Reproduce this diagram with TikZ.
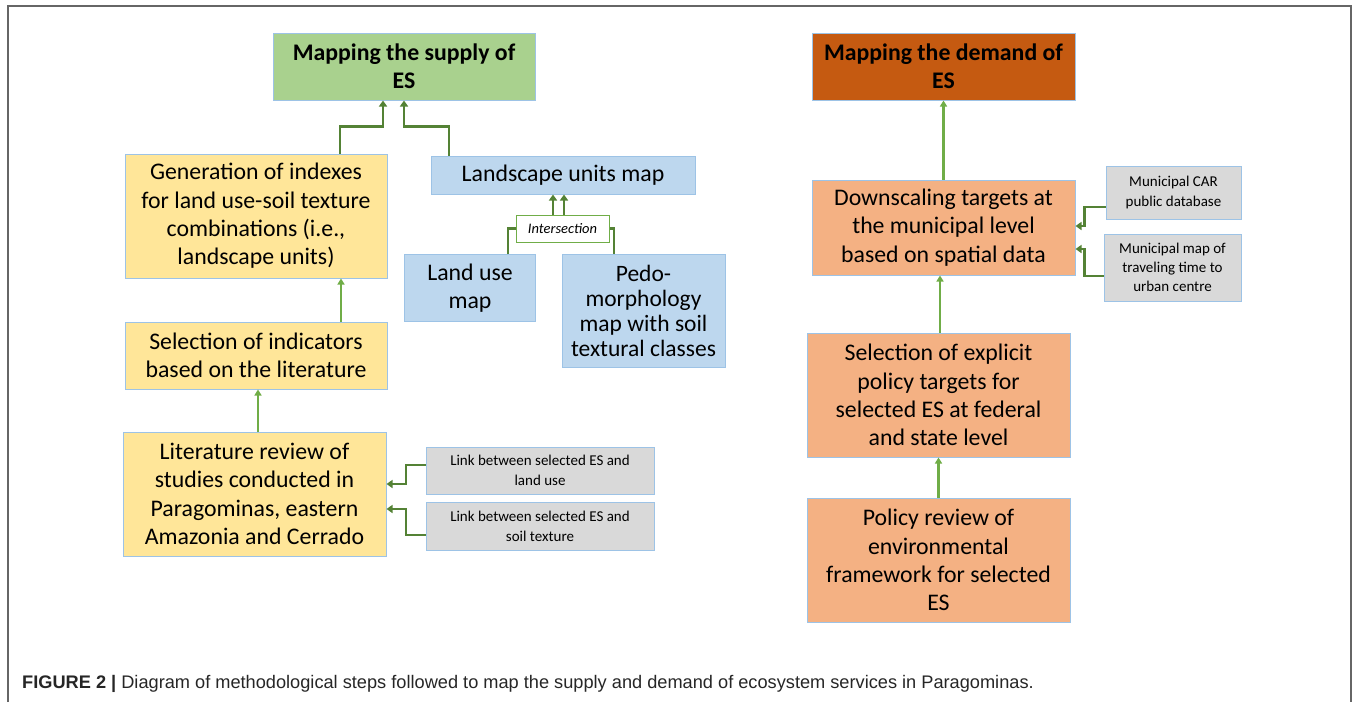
\documentclass[tikz,border=0pt]{standalone}
\usepackage{fontspec}
\setmainfont{Carlito}
\newfontfamily\capfont{Liberation Sans}
\usetikzlibrary{arrows.meta,calc}
\definecolor{gfill}{HTML}{A9D18E}
\definecolor{dfill}{HTML}{C55A11}
\definecolor{yfill}{HTML}{FFE699}
\definecolor{bfill}{HTML}{BDD7EE}
\definecolor{ofill}{HTML}{F4B183}
\definecolor{grfill}{HTML}{D9D9D9}
\definecolor{bord}{HTML}{9DC3E6}
\definecolor{dgreen}{HTML}{548235}
\definecolor{lgreen}{HTML}{70AD47}
\tikzset{
  box/.style={draw=bord, line width=1pt, align=center, inner sep=2pt, font=\fontsize{23.8}{28.3}\selectfont},
  small/.style={draw=bord, line width=1pt, align=center, inner sep=2pt, font=\fontsize{15}{20}\selectfont, fill=grfill},
  thickarr/.style={draw=dgreen, line width=2.6pt, -{Triangle[width=8pt,length=6pt]}},
  thickline/.style={draw=dgreen, line width=2.6pt},
  thinarr/.style={draw=lgreen, line width=2.2pt, -{Triangle[width=7pt,length=6pt]}},
}
\begin{document}
\begin{tikzpicture}[x=1pt,y=-1pt]
\useasboundingbox (0,0) rectangle (1360,702);
\draw[line width=2pt, draw=black!60] (8,702) -- (8,6) -- (1351,6) -- (1351,702);

\node[box, fill=gfill, minimum width=262, minimum height=67, font=\fontsize{23.8}{28}\selectfont\bfseries] (supply) at (404,66.5) {Mapping the supply of\\ES};
\node[box, fill=dfill, minimum width=263, minimum height=67, font=\fontsize{23.8}{28}\selectfont\bfseries] (demand) at (943.5,66.5) {Mapping the demand of\\ES};

\node[box, fill=yfill, minimum width=262, minimum height=124] (gen) at (256,216) {Generation of indexes\\for land use-soil texture\\combinations (i.e.,\\landscape units)};
\node[box, fill=bfill, minimum width=264, minimum height=38] (land) at (563,175) {Landscape units map};
\node[draw=lgreen, line width=1pt, fill=white, minimum width=93, minimum height=27, inner sep=1pt, font=\fontsize{14.5}{16}\selectfont\itshape] (inter) at (562.5,228.5) {Intersection};
\node[box, fill=bfill, minimum width=131, minimum height=67] (landuse) at (470,288) {Land use\\map};
\node[box, fill=bfill, minimum width=163, minimum height=113, font=\fontsize{23.5}{25}\selectfont] (pedo) at (643.5,310.5) {Pedo-\\morphology\\map with soil\\textural classes};
\node[box, fill=yfill, minimum width=262, minimum height=67] (sel) at (256,355.5) {Selection of indicators\\based on the literature};
\node[box, fill=yfill, minimum width=263, minimum height=124] (lit) at (254.5,494) {Literature review of\\studies conducted in\\Paragominas, eastern\\Amazonia and Cerrado};
\node[small, minimum width=228, minimum height=47] (link1) at (540,470.5) {Link between selected ES and\\land use};
\node[small, minimum width=228, minimum height=48] (link2) at (540,526) {Link between selected ES and\\soil texture};

\node[box, fill=ofill, minimum width=263, minimum height=95] (down) at (943.5,227.5) {Downscaling targets at\\the municipal level\\based on spatial data};
\node[small, minimum width=135, minimum height=53] (car) at (1173.5,192.5) {Municipal CAR\\public database};
\node[small, minimum width=137, minimum height=67, font=\fontsize{15}{19}\selectfont] (travel) at (1172.5,267.5) {Municipal map of\\traveling time to\\urban centre};
\node[box, fill=ofill, minimum width=263, minimum height=124] (expl) at (938.5,395) {Selection of explicit\\policy targets for\\selected ES at federal\\and state level};
\node[box, fill=ofill, minimum width=263, minimum height=124] (pol) at (938.5,560) {Policy review of\\environmental\\framework for selected\\ES};

% supply side connectors
\draw[thickarr] ($(gen.north)+(84,0)$) -- ++(0,-27) -| ($(supply.south)+(-21,0)$);
\draw[thickarr] ($(land.north)+(-114,0)$) -- ++(0,-29) -| (supply.south);
\draw[thickline] ($(landuse.north)+(38,0)$) |- (inter.west);
\draw[thickline] ($(pedo.north)+(-29.5,0)$) |- (inter.east);
\coordinate (i1) at ($(inter.north)+(-9.5,0)$);
\coordinate (i2) at ($(inter.north)+(1.5,0)$);
\draw[thickarr] (i1) -- (i1 |- land.south);
\draw[thickarr] (i2) -- (i2 |- land.south);
\draw[thinarr] ($(sel.north)+(85,0)$) -- ($(gen.south)+(85,0)$);
\draw[thinarr] ($(lit.north)+(3.5,0)$) -- ($(sel.south)+(2,0)$);
\draw[thickarr] ($(link1.west)+(0,-5.5)$) -- ++(-19.5,0) |- ($(lit.east)+(0,-10)$);
\draw[thickarr] ($(link2.west)+(0,9)$) -- ++(-19.5,0) |- ($(lit.east)+(0,15)$);

% demand side connectors
\draw[thinarr] (down.north) -- (demand.south);
\draw[thinarr] ($(expl.north)+(1.5,0)$) -- ($(down.south)+(-3.5,0)$);
\draw[thinarr] (pol.north) -- (expl.south);
\draw[thickarr] ($(car.west)+(0,14.5)$) -- ++(-21,0) |- ($(down.east)+(0,-1.5)$);
\draw[thickarr] ($(travel.west)+(0,8.5)$) -- ++(-19,0) |- ($(down.east)+(0,21.5)$);

\node[anchor=base west, inner sep=0pt, font=\capfont\fontsize{18.2}{20}\selectfont, text=black!85] (cap) at (22,688) {\textbf{FIGURE 2 |} Diagram of methodological steps followed to map the supply and demand of ecosystem services in Paragominas.};
\end{tikzpicture}
\end{document}
